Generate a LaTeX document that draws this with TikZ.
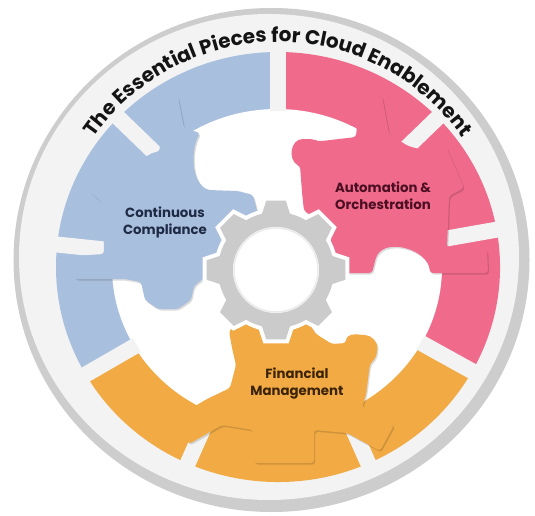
\documentclass[tikz,border=0pt]{standalone}
\usepackage{fontspec}
\usetikzlibrary{decorations.text,shadows,calc}
\newfontfamily\pop{Poppins}
\definecolor{bluec}{HTML}{A9BFDE}
\definecolor{pinkc}{HTML}{EF6A8B}
\definecolor{orangec}{HTML}{F1AA44}
\definecolor{grayc}{HTML}{CBCBCB}
\definecolor{bandc}{HTML}{F3F3F3}
\definecolor{borderc}{HTML}{CDCDCD}
\definecolor{navyc}{HTML}{1F2B45}
\definecolor{maroonc}{HTML}{4A0F22}
\definecolor{brownc}{HTML}{3B2308}
\definecolor{titlec}{HTML}{141414}
\begin{document}
\begin{tikzpicture}[x=1pt,y=-1pt,
  gearshape/.style={rounded corners=3pt, drop shadow={fill=black, opacity=0.14, shadow xshift=1.2pt, shadow yshift=-1.6pt}},
  lbl/.style={font=\pop\bfseries\fontsize{13.3}{17}\selectfont, align=center, inner sep=0pt},
  gapbar/.style={draw=bandc, line width=16pt}]
\useasboundingbox (0,0) rectangle (535,516);
\fill[white] (0,0) rectangle (535,516);
% outer disc
\fill[borderc] (271.5,260) ellipse[x radius=258, y radius=252];
\fill[bandc] (269,257) ellipse[x radius=250, y radius=243];
% coloured ring
\coordinate (C) at (278,267);
\fill[bluec] (C) -- ($(C)+(-90:222 and 215)$) arc[start angle=-90, end angle=-210, x radius=222, y radius=215] -- cycle;
\fill[orangec] (C) -- ($(C)+(-210:222 and 215)$) arc[start angle=-210, end angle=-331, x radius=222, y radius=215] -- cycle;
\fill[pinkc] (C) -- ($(C)+(-331:222 and 215)$) arc[start angle=-331, end angle=-450, x radius=222, y radius=215] -- cycle;
\fill[white] (277,267) ellipse[x radius=165, y radius=158];
\foreach \t in {90,136,174,210,246,294,331,10,44}
  \draw[gapbar] ($(C)+(-\t:163 and 156)$) -- ($(C)+(-\t:232 and 225)$);
% title
\path[decorate, decoration={text along path, text align=center,
  text={|\pop\bfseries\fontsize{20}{24}\selectfont\color{titlec}|The Essential Pieces for Cloud Enablement}}]
  ($(C)+(-152:225)$) arc[start angle=-152, end angle=-28, radius=225];
% blue gear
\path[fill=bluec, gearshape] (157,101) -- (178,97) -- (184,128) -- (200,133)
  .. controls (191,150) and (191,180) .. (208,190) -- (238,191) -- (253,195) -- (258,214)
  -- (248,238) -- (226,258) -- (214,268) -- (204,278) -- (194,286) -- (191,300) -- (178,309)
  -- (158,309) -- (145,300) -- (141,282) -- (125,279) -- (75,279) -- (73,256) -- (104,254)
  -- (103,203) -- (89,191) -- (118,154) -- (132,165) -- (152,153) -- (160,151) -- cycle;
% pink gear
\path[fill=pinkc, gearshape] (302,192) -- (300,166)
  .. controls (288,160) and (290,139) .. (306,139) .. controls (313,139) and (318,141) .. (322,141)
  -- (356,137) -- (359,100) -- (382,96) -- (389,134) -- (408,146) -- (430,152) -- (446,146)
  -- (464,188) -- (449,196) -- (447,248) -- (487,250) -- (488,273) -- (430,273)
  .. controls (428,250) and (388,238) .. (376,257) -- (372,273) -- (333,273) -- (330,226)
  -- (304,211) -- cycle;
% orange gear
\path[fill=orangec, gearshape] (229,331) -- (238,322) -- (260,322) -- (264,334) -- (282,334)
  -- (286,322) -- (308,322) -- (316,334) -- (332,344) -- (346,343)
  .. controls (346,334) and (356,334) .. (362,335) .. controls (372,335) and (378,343) .. (377,351)
  .. controls (376,358) and (372,362) .. (370,364) -- (366,395) -- (362,407) -- (394,425)
  -- (380,451) -- (347,433) -- (314,430) -- (314,463) -- (254,463) -- (253,430) -- (222,425)
  -- (189,444) -- (175,418) -- (207,399) -- (230,388) -- (236,365) -- (232,348) -- cycle;
% centre gear
\begin{scope}[shift={(276,270)}]
\path[preaction={draw=white, line width=8pt}, fill=grayc] (-14:58)
  \foreach \a in {0,45,...,315}{ -- (\a-14:58) -- (\a-8:70) -- (\a+8:70) -- (\a+14:58)
  arc[start angle=\a+14, end angle=\a+31, radius=58]} -- cycle;
\fill[white] (0,0) circle[radius=43];
\draw[black!8, line width=1.5pt] (0,0) circle[radius=42];
\end{scope}
% labels
\node[lbl, text=navyc] (cc) at (165,222) {Continuous\\Compliance};
\node[lbl, text=maroonc] (ao) at (383,196) {Automation \&\\Orchestration};
\node[lbl, text=brownc] (fm) at (297,383) {Financial\\Management};
\end{tikzpicture}
\end{document}
